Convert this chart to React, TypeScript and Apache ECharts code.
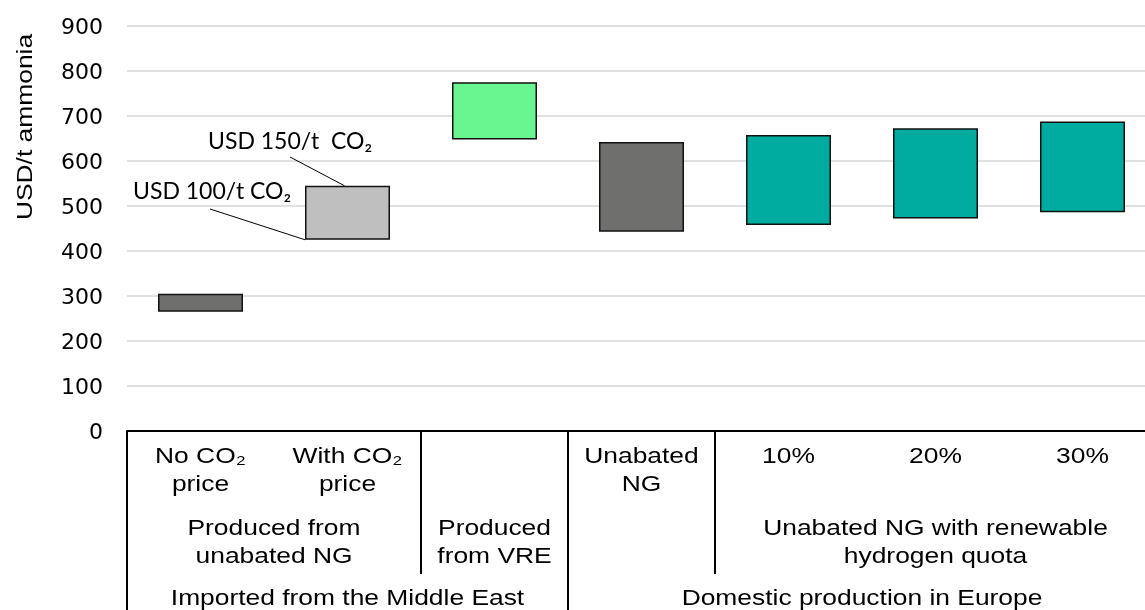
import React, { useEffect, useRef } from "react";
import * as echarts from "echarts";

const categories = ["No CO₂ price", "With CO₂ price", "Produced from VRE", "Unabated NG", "10%", "20%", "30%"];
const rangeLow = [265, 425, 648, 443, 458, 472, 486];
const rangeHigh = [305, 545, 775, 642, 658, 673, 688];
const barColors = ["#6f706e", "#bfbfbf", "#69f58f", "#6f706e", "#00aca0", "#00aca0", "#00aca0"];
const yMin = 0;
const yMax = 900;
const yInterval = 100;
const yAxisTitle = "USD/t ammonia";

const row1Labels = ["No CO₂\nprice", "With CO₂\nprice", "", "Unabated\nNG", "10%", "20%", "30%"];
const row2Labels = ["Produced from\nunabated NG", "Produced\nfrom VRE", "Unabated NG with renewable\nhydrogen quota"];
const row2Positions = [0.5, 2, 5];
const row3Labels = ["Imported from the Middle East", "Domestic production in Europe"];
const row3Positions = [1, 4.5];
const annotationLabels = ["USD 150/t  CO₂", "USD 100/t CO₂"];

const FONT = "Liberation Sans, Arial, sans-serif";
const WIDE = 1.2;

export default function App() {
  const ref = useRef<HTMLDivElement>(null);
  useEffect(() => {
    if (!ref.current) return;
    const chart = echarts.init(ref.current, null, { renderer: "svg" });
    const base = rangeLow.map((v) => v);
    const delta = rangeHigh.map((h, i) => ({
      value: h - rangeLow[i],
      itemStyle: { color: barColors[i] },
    }));
    chart.setOption({
      animation: false,
      grid: { left: 127, width: 1029, top: 26, height: 405, outerBoundsMode: "none", containLabel: false },
      xAxis: {
        type: "category",
        data: categories,
        axisLine: { show: true, lineStyle: { color: "#000", width: 2 } },
        axisTick: { show: false },
        axisLabel: { show: false },
        splitLine: { show: false },
      },
      yAxis: {
        type: "value",
        min: yMin,
        max: yMax,
        interval: yInterval,
        axisLine: { show: false },
        axisTick: { show: false },
        axisLabel: { fontSize: 22, color: "#000", fontFamily: "DejaVu Sans, sans-serif", margin: 24 },
        splitLine: { lineStyle: { color: "#e0e0e0", width: 2 } },
      },
      series: [
        {
          type: "bar",
          stack: "r",
          data: base,
          barWidth: 85,
          itemStyle: { color: "transparent" },
          silent: true,
        },
        {
          type: "bar",
          stack: "r",
          data: delta,
          barWidth: 85,
          itemStyle: { borderColor: "#111", borderWidth: 1.5 },
        },
      ],
    });

    const px = (i: number, v: number) => chart.convertToPixel({ gridIndex: 0 }, [i, v]) as number[];
    const c0 = px(0, 0)[0];
    const step = px(1, 0)[0] - c0;
    const y0 = px(0, 0)[1];
    const xAt = (p: number) => c0 + p * step;
    const bottom = 610;
    const shortBottom = 574;

    const textStyle = (extra: any) => ({
      fontSize: 22,
      fontFamily: FONT,
      fill: "#000",
      align: "center",
      verticalAlign: "top",
      lineHeight: 28,
      ...extra,
    });

    const elements: any[] = [];
    const vline = (x: number, y2: number) => ({
      type: "line",
      shape: { x1: x, y1: y0, x2: x, y2 },
      style: { stroke: "#000", lineWidth: 2 },
    });
    elements.push(vline(xAt(-0.5), bottom));
    elements.push(vline(xAt(1.5), shortBottom));
    elements.push(vline(xAt(2.5), bottom));
    elements.push(vline(xAt(3.5), shortBottom));

    row1Labels.forEach((t, i) => {
      if (!t) return;
      elements.push({ type: "text", x: xAt(i), y: 441, scaleX: WIDE, style: textStyle({ text: t }) });
    });
    row2Labels.forEach((t, i) => {
      elements.push({ type: "text", x: xAt(row2Positions[i]), y: 513, scaleX: WIDE, style: textStyle({ text: t }) });
    });
    row3Labels.forEach((t, i) => {
      elements.push({ type: "text", x: xAt(row3Positions[i]), y: 583, scaleX: WIDE, style: textStyle({ text: t }) });
    });

    elements.push({
      type: "text",
      x: 24,
      y: 127,
      rotation: Math.PI / 2,
      scaleX: WIDE,
      style: { text: yAxisTitle, fontSize: 22, fontFamily: FONT, fill: "#000", align: "center", verticalAlign: "middle" },
    });

    const top2 = px(1, rangeHigh[1]);
    const low2 = px(1, rangeLow[1]);
    elements.push({
      type: "text",
      x: 208,
      y: 140,
      style: { text: annotationLabels[0], fontSize: 23, fontFamily: "Lato, sans-serif", fill: "#000", align: "left", verticalAlign: "middle" },
    });
    elements.push({
      type: "text",
      x: 133,
      y: 190,
      style: { text: annotationLabels[1], fontSize: 23, fontFamily: "Lato, sans-serif", fill: "#000", align: "left", verticalAlign: "middle" },
    });
    elements.push({
      type: "line",
      shape: { x1: 290, y1: 157, x2: top2[0] - 3, y2: top2[1] },
      style: { stroke: "#000", lineWidth: 1 },
    });
    elements.push({
      type: "line",
      shape: { x1: 210, y1: 209, x2: low2[0] - 42.5, y2: low2[1] },
      style: { stroke: "#000", lineWidth: 1 },
    });

    chart.setOption({ graphic: { elements } });
    return () => chart.dispose();
  }, []);
  return <div ref={ref} style={{ position: "fixed", left: 0, top: 0, width: 1145, height: 610 }} />;
}
